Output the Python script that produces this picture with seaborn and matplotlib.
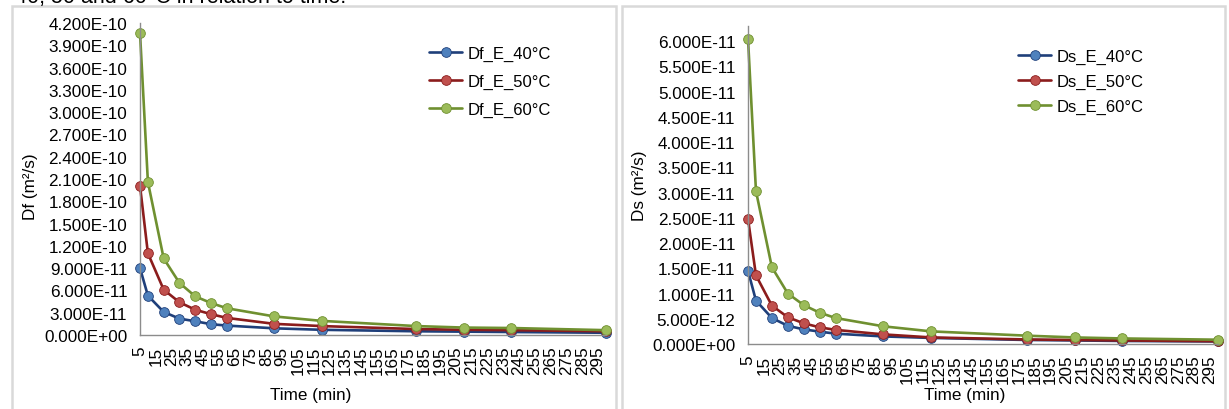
import numpy as np
import pandas as pd
import seaborn as sns
import matplotlib.pyplot as plt
from matplotlib.patches import Rectangle
from matplotlib.ticker import FuncFormatter

# time (min)
time_min = [5, 10, 20, 30, 40, 50, 60, 90, 120, 180, 210, 240, 300]

# Df (m2/s)
df_40 = [0.90e-10, 0.53e-10, 0.31e-10, 0.22e-10, 0.185e-10, 0.145e-10, 0.127e-10,
         0.09e-10, 0.07e-10, 0.05e-10, 0.045e-10, 0.04e-10, 0.03e-10]
df_50 = [2.01e-10, 1.10e-10, 0.61e-10, 0.44e-10, 0.34e-10, 0.28e-10, 0.23e-10,
         0.15e-10, 0.12e-10, 0.08e-10, 0.07e-10, 0.065e-10, 0.05e-10]
df_60 = [4.07e-10, 2.06e-10, 1.03e-10, 0.70e-10, 0.52e-10, 0.43e-10, 0.36e-10,
         0.25e-10, 0.19e-10, 0.12e-10, 0.10e-10, 0.094e-10, 0.065e-10]

# Ds (m2/s)
ds_40 = [1.45e-11, 0.86e-11, 0.515e-11, 0.36e-11, 0.29e-11, 0.245e-11, 0.205e-11,
         0.15e-11, 0.12e-11, 0.08e-11, 0.07e-11, 0.06e-11, 0.05e-11]
ds_50 = [2.48e-11, 1.36e-11, 0.76e-11, 0.53e-11, 0.41e-11, 0.33e-11, 0.28e-11,
         0.19e-11, 0.13e-11, 0.09e-11, 0.08e-11, 0.07e-11, 0.055e-11]
ds_60 = [6.05e-11, 3.03e-11, 1.52e-11, 1.00e-11, 0.77e-11, 0.62e-11, 0.515e-11,
         0.35e-11, 0.25e-11, 0.165e-11, 0.13e-11, 0.11e-11, 0.085e-11]

temps = ["40°C", "50°C", "60°C"]
line_cols = ["#1f3f7a", "#8b1c1c", "#6f9030"]
face_cols = ["#4f81bd", "#c0504d", "#9bbb59"]

sns.set_style("white")
plt.rcParams["font.family"] = ["Liberation Sans", "DejaVu Sans"]
plt.rcParams["text.color"] = "black"
plt.rcParams["axes.labelcolor"] = "black"
plt.rcParams["xtick.color"] = "black"
plt.rcParams["ytick.color"] = "black"

W, H = 1229, 410
fig = plt.figure(figsize=(W / 100, H / 100), dpi=100)

# chart frames
for x0, x1 in [(12, 616), (622, 1225)]:
    fig.patches.append(Rectangle((x0 / W, -0.05), (x1 - x0) / W, 1.05 - 7 / H,
                                 transform=fig.transFigure, fill=False,
                                 edgecolor="#d9d9d9", linewidth=1.8))

# caption line above the charts, cut by the top edge as in the source
fig.text(15 / W, 1 - 3.5 / H, "40, 50 and 60°C in relation to time.",
         fontsize=15.5, va="baseline", ha="left", color="black")

FS = 12.3


def panel(rect, series, prefix, ymax, ystep, yticks_top, ylab, ylab_xy, xlab_xy,
          leg_xy, leg_spacing):
    ax = fig.add_axes(rect)
    for vals, t, lc, fc in zip(series, temps, line_cols, face_cols):
        d = pd.DataFrame({"t": time_min, "v": vals})
        sns.lineplot(data=d, x="t", y="v", ax=ax, color=lc, linewidth=1.9,
                     marker="o", markersize=7, markerfacecolor=fc,
                     markeredgecolor=lc, markeredgewidth=0.6,
                     label=f"{prefix}_E_{t}", clip_on=False)
    ax.set_xlim(5, 300)
    ax.set_ylim(0, ymax)
    ax.set_xticks(np.arange(5, 300, 10))
    ax.set_xticklabels([str(v) for v in range(5, 300, 10)], rotation=90)
    ax.set_yticks(np.arange(0, yticks_top + ystep / 2, ystep))
    ax.yaxis.set_major_formatter(FuncFormatter(lambda v, p: f"{v:.3E}"))
    for s in ["top", "right"]:
        ax.spines[s].set_visible(False)
    for s in ["left", "bottom"]:
        ax.spines[s].set_color("#8c8c8c")
        ax.spines[s].set_linewidth(1.0)
    ax.tick_params(axis="both", direction="out", length=3.6, width=0.8,
                   color="#8c8c8c", labelcolor="black", labelsize=FS)
    ax.tick_params(axis="y", pad=5.5)
    ax.tick_params(axis="x", pad=4)
    ax.set_ylabel(ylab, fontsize=FS, color="black")
    ax.set_xlabel("Time (min)", fontsize=FS, color="black")
    ax.yaxis.set_label_coords(*ylab_xy)
    ax.xaxis.set_label_coords(*xlab_xy)
    ax.legend(loc="upper left", bbox_to_anchor=leg_xy,
              bbox_transform=fig.transFigure, frameon=False, fontsize=12,
              handlelength=2.0, handletextpad=0.3, labelspacing=leg_spacing,
              borderpad=0, borderaxespad=0, labelcolor="black")
    return ax


panel([140 / W, (H - 336) / H, 466 / W, 312 / H],
      [df_40, df_50, df_60], "Df", 4.2e-10, 0.3e-10, 4.2e-10,
      "Df (m²/s)", (-0.219, 0.478), (0.367, -0.167),
      (429 / W, 1 - 47 / H), 0.76)

panel([748 / W, (H - 345) / H, 470 / W, 318 / H],
      [ds_40, ds_50, ds_60], "Ds", 6.3e-11, 0.5e-11, 6.0e-11,
      "Ds (m²/s)", (-0.215, 0.5), (0.46, -0.135),
      (1018 / W, 1 - 50 / H), 0.6)

fig.savefig("out.png", dpi=100)
